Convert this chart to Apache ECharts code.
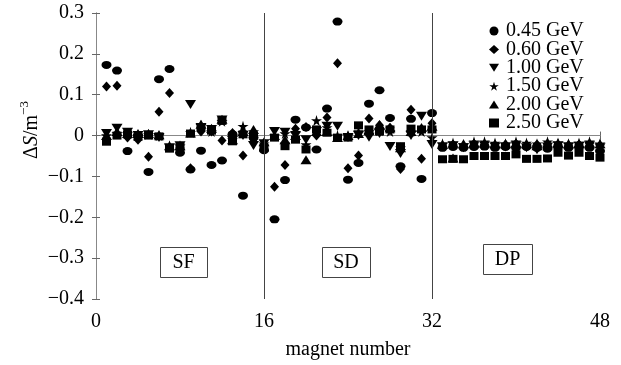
<!DOCTYPE html>
<html><head><meta charset="utf-8">
<script src="https://cdn.jsdelivr.net/npm/echarts@6/dist/echarts.min.js"></script>
<style>html,body{margin:0;padding:0;background:#fff}#c{width:621px;height:365px}</style>
</head><body><div id="c"></div>
<script>
const magnets = [1,2,3,4,5,6,7,8,9,10,11,12,13,14,15,16,17,18,19,20,21,22,23,24,25,26,27,28,29,30,31,32,33,34,35,36,37,38,39,40,41,42,43,44,45,46,47,48];
const seriesNames = ['0.45 GeV','0.60 GeV','1.00 GeV','1.50 GeV','2.00 GeV','2.50 GeV'];
const xTicks = [0,16,32,48];
const sections = ['SF','SD','DP'];
const dividers = [16,32];

const e045 = [0.173,0.159,-0.038,0.0,-0.089,0.138,0.163,-0.042,-0.083,-0.037,-0.072,-0.061,0.003,-0.147,-0.005,-0.036,
  -0.205,-0.109,0.039,0.02,-0.034,0.066,0.279,-0.108,-0.067,0.078,0.111,0.043,-0.075,0.041,-0.106,0.055,
  -0.03,-0.028,-0.03,-0.028,-0.027,-0.03,-0.028,-0.03,-0.028,-0.03,-0.032,-0.028,-0.03,-0.028,-0.03,-0.038];
const e060 = [0.12,0.122,-0.005,-0.01,-0.052,0.058,0.104,-0.03,-0.08,0.01,0.01,-0.012,0.006,-0.049,-0.015,-0.025,
  -0.125,-0.072,0.017,0.021,0.0,0.044,0.177,-0.08,-0.049,0.042,0.025,0.019,-0.082,0.063,-0.057,0.03,
  -0.025,-0.022,-0.027,-0.02,-0.022,-0.025,-0.022,-0.02,-0.025,-0.022,-0.02,-0.022,-0.025,-0.022,-0.02,-0.025];
const e100 = [0.005,0.018,0.008,0.0,0.002,-0.005,-0.03,-0.025,0.076,0.02,0.015,0.038,-0.012,0.0,-0.024,-0.02,
  0.01,0.008,0.0,-0.01,0.01,0.023,0.023,-0.005,0.0,-0.004,0.005,-0.027,-0.044,0.0,0.047,-0.022,
  -0.028,-0.025,-0.03,-0.025,-0.025,-0.028,-0.028,-0.025,-0.03,-0.035,-0.028,-0.025,-0.028,-0.026,-0.025,-0.03];
const e150 = [0.0,0.005,0.005,0.0,0.003,0.0,-0.025,-0.025,0.008,0.025,0.01,0.035,-0.01,0.023,0.01,-0.02,
  0.0,0.005,0.005,-0.022,0.037,0.02,0.0,0.0,0.01,0.01,0.012,0.01,-0.03,0.01,0.01,-0.005,
  -0.02,-0.018,-0.022,-0.015,-0.015,-0.018,-0.02,-0.015,-0.018,-0.02,-0.015,-0.018,-0.02,-0.018,-0.015,-0.02];
const e200 = [0.0,0.01,0.005,0.005,0.005,0.002,-0.025,-0.025,0.006,0.028,0.018,0.04,-0.01,0.01,0.015,-0.015,
  0.0,-0.01,0.0,-0.059,0.01,0.01,-0.005,0.0,0.005,0.012,0.027,0.019,-0.03,0.01,0.02,0.023,
  -0.022,-0.055,-0.02,-0.018,-0.018,-0.02,-0.02,-0.018,-0.02,-0.025,-0.018,-0.018,-0.02,-0.02,-0.018,-0.02];
const e250 = [-0.015,0.0,0.003,-0.003,0.0,-0.002,-0.032,-0.028,0.005,0.02,0.012,0.036,-0.014,0.003,0.0,-0.03,
  -0.005,-0.026,-0.01,-0.034,0.015,0.007,-0.005,-0.005,0.025,0.015,0.01,0.015,-0.026,0.017,0.015,0.015,
  -0.058,-0.057,-0.058,-0.05,-0.05,-0.05,-0.05,-0.046,-0.057,-0.057,-0.056,-0.042,-0.049,-0.042,-0.05,-0.054];

const FONT = 'Liberation Serif';
const allValues = [e045,e060,e100,e150,e200,e250];
const symbols = ['circle','diamond','path://M0,0 L10,0 L5,8 Z',
  'path://M50,0 L61,35 L98,35 L68,57 L79,91 L50,70 L21,91 L32,57 L2,35 L39,35 Z',
  'path://M5,0 L10,8 L0,8 Z','rect'];
const sizes = [[10,8],[9,10],[11,9],[11,11],[11,9],[9,8]];

const series = seriesNames.map((name,i)=>({
  name: name, type:'scatter', xAxisIndex:0, yAxisIndex:0,
  symbol: symbols[i], symbolSize: sizes[i],
  itemStyle:{color:'#000', opacity:1},
  data: magnets.map((m,j)=>[m, allValues[i][j]]),
  z: 3
}));
series[0].markLine = {
  silent:true, symbol:['none','none'], label:{show:false},
  lineStyle:{color:'#444', width:1, type:'solid'},
  data: dividers.map(d=>({xAxis:d}))
};

function fmtY(v){
  const r = Math.round(v*10)/10;
  if (r===0) return '0';
  return (r<0?'\u2212':'') + Math.abs(r).toFixed(1);
}
const axisLine = {show:true, lineStyle:{color:'#888', width:1}};
const tick = {show:true, inside:true, length:4, lineStyle:{color:'#666'}};

const boxes = [
  {t:sections[0], x:160, y:247, w:47, h:30},
  {t:sections[1], x:322, y:247, w:48, h:30},
  {t:sections[2], x:483, y:244, w:49, h:30}
];
const graphics = [];
boxes.forEach(b=>{
  graphics.push({type:'rect', shape:{x:b.x+0.5,y:b.y+0.5,width:b.w,height:b.h}, style:{fill:'#fff', stroke:'#444', lineWidth:1}, z:10});
  graphics.push({type:'text', x:b.x+b.w/2, y:b.y+b.h/2+1, style:{text:b.t, font:'20px "'+FONT+'"', fill:'#000', align:'center', verticalAlign:'middle'}, z:11});
});
graphics.push({type:'text', x:30, y:130, rotation:Math.PI/2,
  style:{text:'{a|\u0394}{i|S}{a|/m}{s|\u22123}', align:'center', verticalAlign:'middle', fill:'#000',
    rich:{a:{fontFamily:FONT, fontSize:20, lineHeight:24, verticalAlign:'bottom'},
          i:{fontFamily:FONT, fontSize:20, fontStyle:'italic', lineHeight:24, verticalAlign:'bottom'},
          s:{fontFamily:FONT, fontSize:13, lineHeight:13, verticalAlign:'top'}}}, z:11});

const chart = echarts.init(document.getElementById('c'), null, {renderer:'canvas'});
chart.setOption({
  animation:false,
  backgroundColor:'#fff',
  grid:{left:96, right:21, top:13, bottom:65},
  legend:{
    orient:'vertical', left:484, top:16, itemWidth:10, itemHeight:9, itemGap:-1.6,
    data: seriesNames,
    textStyle:{fontFamily:FONT, fontSize:20, color:'#000', padding:[0,0,0,2]},
    itemStyle:{color:'#000'}
  },
  xAxis:[
    {type:'value', min:0, max:48, interval:16, position:'bottom',
     axisLine:axisLine, axisTick:tick, splitLine:{show:false},
     axisLabel:{fontFamily:FONT, fontSize:20, color:'#000', margin:13, formatter:v=>xTicks.includes(v)?String(v):''},
     name:'magnet number', nameLocation:'middle', nameGap:41,
     nameTextStyle:{fontFamily:FONT, fontSize:20, color:'#000'}},
    {type:'value', min:0, max:48, interval:16, position:'top',
     axisLine:axisLine, axisTick:tick, axisLabel:{show:false}, splitLine:{show:false}}
  ],
  yAxis:[
    {type:'value', min:-0.4, max:0.3, interval:0.1, position:'left',
     axisLine:axisLine, axisTick:tick, splitLine:{show:false},
     axisLabel:{fontFamily:FONT, fontSize:20, color:'#000', margin:12, formatter:fmtY}},
    {type:'value', min:-0.4, max:0.3, interval:0.1, position:'right',
     axisLine:axisLine, axisTick:tick, axisLabel:{show:false}, splitLine:{show:false}}
  ],
  graphic: graphics,
  series: series
});
</script></body></html>
